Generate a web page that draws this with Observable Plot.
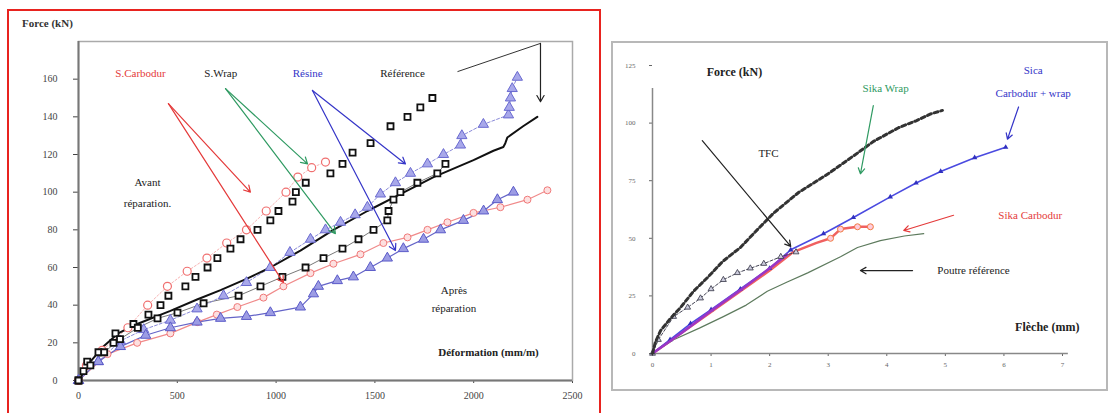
<!DOCTYPE html>
<html>
<head>
<meta charset="utf-8">
<script src="https://cdn.jsdelivr.net/npm/d3@7"></script>
<script src="https://cdn.jsdelivr.net/npm/@observablehq/plot@0.6"></script>
<style>
  body { margin: 0; background: #fff; }
  #root { position: relative; width: 1110px; height: 413px; overflow: hidden; background: #fff; font-family: "Liberation Serif", serif; }
  .abs { position: absolute; }
  #root svg, #root svg text { font-family: "Liberation Serif", serif !important; }
</style>
</head>
<body>
<div id="root">
  <div class="abs" style="left:7px;top:9px;width:590px;height:420px;border:2px solid #e8231f;"></div>
  <div class="abs" style="left:611px;top:41px;width:493px;height:346px;border:2px solid #b8b8b8;"></div>
  <div id="left" class="abs" style="left:0;top:0"></div>
  <div id="right" class="abs" style="left:600px;top:0"></div>
  <div class="abs" style="left:22px;top:17px;font:bold 11px 'Liberation Serif';color:#333">Force (kN)</div>
</div>
<script>
// ---------- LEFT CHART DATA : Force (kN) vs Déformation (mm/m) ----------
const leftXTicks = [0, 500, 1000, 1500, 2000, 2500];
const leftYTicks = [0, 20, 40, 60, 80, 100, 120, 140, 160];

const sCarbodurAvant = [[0,0],[40,8],[120,16],[250,28],[350,40],[450,50],[550,58],[650,65],[750,73],[850,80],[950,90],[1050,100],[1110,108],[1180,113],[1250,116]];
const sWrapAvant = [[0,0],[25,5],[44,10],[101,15],[177,20],[187,25],[278,30],[354,35],[415,40],[455,45],[541,50],[592,55],[653,60],[703,65],[769,70],[820,75],[906,80],[971,85],[1012,90],[1083,95],[1100,100],[1150,105],[1275,110],[1336,115],[1387,121],[1478,126],[1579,135],[1665,140],[1730,145],[1791,150]];
const sWrapApres = [[0,0],[60,8],[130,15],[210,22],[300,28],[400,33],[501,36],[633,41],[810,45],[921,50],[1032,55],[1149,60],[1240,65],[1336,70],[1417,75],[1493,80],[1563,85],[1569,90],[1594,96],[1629,100],[1715,105],[1816,110],[1857,115]];
const reference = [[0,0],[60,10],[126,18],[200,25],[297,30],[465,37],[600,43],[719,48],[850,54],[971,60],[1123,69],[1290,80],[1462,90],[1629,99],[1797,108],[1999,117],[2100,122],[2150,124],[2160,126],[2170,129],[2250,135],[2322,140]];
const resineAvant = [[0,0],[100,10],[212,21],[330,27],[465,32],[600,38],[734,45],[850,52],[971,60],[1070,68],[1174,75],[1250,80],[1326,84],[1400,88],[1462,92],[1528,99],[1604,105],[1680,110],[1766,115],[1847,120],[1933,125],[1940,130],[2049,136],[2176,141],[2180,145],[2186,150],[2195,155],[2221,161]];
const sCarbodurApres = [[0,0],[147,14],[297,20],[465,25],[602,31],[700,35],[804,39],[936,44],[1037,50],[1174,57],[1290,62],[1427,67],[1543,73],[1665,76],[1766,80],[1867,84],[1999,89],[2135,92],[2272,96],[2373,101]];
const resineApres = [[0,0],[100,10],[212,18],[340,24],[465,28],[600,31],[719,33],[850,34],[971,36],[1123,39],[1189,46],[1214,50],[1310,53],[1391,55],[1477,60],[1563,65],[1644,70],[1746,75],[1832,80],[1948,85],[2050,90],[2120,96],[2201,100]];

const leftLabels = [
  {x: 314, y: 163, text: "S.Carbodur", group: "red"},
  {x: 720, y: 163, text: "S.Wrap", group: "black"},
  {x: 1160, y: 163, text: "Résine", group: "blue"},
  {x: 1640, y: 163, text: "Référence", group: "black"},
  {x: 349, y: 105, text: "Avant", group: "black"},
  {x: 349, y: 94, text: "réparation.", group: "black"},
  {x: 1900, y: 48, text: "Après", group: "black"},
  {x: 1900, y: 38, text: "réparation", group: "black"}
];
const leftAxisTitle = [{x: 2075, y: 15, text: "Déformation (mm/m)"}];
const leftArrows = [
  {x1: 455, y1: 147, x2: 870, y2: 100, group: "red"},
  {x1: 455, y1: 147, x2: 1037, y2: 52, group: "red"},
  {x1: 744, y1: 155, x2: 1159, y2: 115, group: "green"},
  {x1: 744, y1: 155, x2: 1300, y2: 78, group: "green"},
  {x1: 1184, y1: 154, x2: 1655, y2: 115, group: "blue"},
  {x1: 1184, y1: 154, x2: 1604, y2: 69, group: "blue"},
  {x1: 2338, y1: 179, x2: 2338, y2: 148, group: "black"}
];
const leftLinks = [{x1: 1918, y1: 164, x2: 2338, y2: 179}];

// ---------- RIGHT CHART DATA : Force (kN) vs Flèche (mm) ----------
const rightXTicks = [0, 1, 2, 3, 4, 5, 6, 7];
const rightYTicks = [0, 25, 50, 75, 100, 125];

const tfc = [[0,0],[0.05,5],[0.14,10],[0.3,15],[0.48,20],[0.7,27],[0.94,33],[1.2,40],[1.5,46],[1.8,54],[2.07,61],[2.5,70],[3.0,78],[3.5,87],[3.77,92],[4.2,98],[4.5,101],[4.75,104],[4.95,105.5]];
const sikaWrap = [[0,0],[0.1,6],[0.36,16],[0.6,20],[0.82,24],[1.0,28],[1.21,32],[1.45,35],[1.67,37],[1.9,39],[2.19,42],[2.45,44]];
const carbodurWrap = [[0,0],[0.3,6],[0.65,13],[1.0,19],[1.5,28],[2.0,37],[2.36,45],[2.92,52],[3.43,59],[4.06,68],[4.5,74],[4.92,79],[5.5,85],[6.03,89.5]];
const purpleOverlay = [[0,0],[0.5,9],[1.0,18.5],[1.5,27.5],[2.0,37],[2.3,43]];
const sikaCarbodur = [[0,0],[0.5,9],[1.0,18],[1.5,27],[2.0,36],[2.4,44],[2.8,48],[3.04,50],[3.21,54],[3.5,55],[3.72,55]];
const poutreRef = [[0,0],[0.36,6],[0.8,11],[1.21,16],[1.6,21],[1.96,27],[2.3,31],[2.65,35],[3.21,42],[3.5,46],[3.89,49],[4.3,51],[4.63,52]];

const rightLabels = [
  {x: 1.98, y: 87, text: "TFC", group: "black"},
  {x: 3.98, y: 115, text: "Sika Wrap", group: "green"},
  {x: 6.5, y: 123, text: "Sica", group: "blue"},
  {x: 6.5, y: 113, text: "Carbodur + wrap", group: "blue"},
  {x: 6.45, y: 60, text: "Sika Carbodur", group: "red"},
  {x: 5.48, y: 36, text: "Poutre référence", group: "black"}
];
const rightTitles = [
  {x: 1.4, y: 122, text: "Force (kN)"},
  {x: 6.74, y: 11.3, text: "Flèche (mm)"}
];
const rightArrows = [
  {x1: 0.85, y1: 92.4, x2: 2.36, y2: 46.5, group: "black"},
  {x1: 3.77, y1: 107.6, x2: 3.55, y2: 78, group: "green"},
  {x1: 6.25, y1: 107, x2: 6.06, y2: 93, group: "blue"},
  {x1: 5.14, y1: 60, x2: 4.29, y2: 53.4, group: "red"},
  {x1: 4.44, y1: 36, x2: 3.55, y2: 36, group: "black"}
];

// ---------- helpers ----------
const rows = pts => pts.map(([x, y]) => ({x, y}));
const colorOf = g => ({red: "#e43a3a", green: "#2f9a62", blue: "#3535c8", black: "#222"})[g];
const FONT = "'Liberation Serif', serif";

// ---------- LEFT ----------
const left = Plot.plot({
  width: 600, height: 413,
  marginLeft: 78, marginRight: 28, marginTop: 41, marginBottom: 33,
  style: {fontFamily: FONT, fontSize: "10px", color: "#444", background: "transparent"},
  x: {domain: [0, 2500], ticks: leftXTicks, tickFormat: d => String(d), tickSize: 3, tickPadding: 8, label: null},
  y: {domain: [0, 180], ticks: leftYTicks, tickFormat: d => String(d), tickSize: 5, tickPadding: 16, label: null},
  marks: [
    Plot.frame({stroke: "#aaa", strokeWidth: 1.5}),
    Plot.ruleX([0], {stroke: "#777", strokeWidth: 2}),
    Plot.ruleY([0], {stroke: "#777", strokeWidth: 2}),
    // lines
    Plot.line(rows(sCarbodurApres), {x: "x", y: "y", stroke: "#f08a8a", strokeWidth: 1.2}),
    Plot.line(rows(resineApres), {x: "x", y: "y", stroke: "#6464c8", strokeWidth: 1.2}),
    Plot.line(rows(sWrapApres), {x: "x", y: "y", stroke: "#555", strokeWidth: 0.8}),
    Plot.line(rows(resineAvant), {x: "x", y: "y", stroke: "#8a8ad8", strokeWidth: 1, strokeDasharray: "3,2"}),
    Plot.line(rows(sCarbodurAvant), {x: "x", y: "y", stroke: "#f4a0a0", strokeWidth: 0.8, strokeDasharray: "2,2"}),
    Plot.line(rows(reference), {x: "x", y: "y", stroke: "#111", strokeWidth: 2}),
    // markers
    Plot.dot(rows(sCarbodurAvant), {x: "x", y: "y", r: 4, stroke: "#f07070", strokeWidth: 1.2, fill: "white"}),
    Plot.dot(rows(sCarbodurApres), {x: "x", y: "y", r: 3.5, stroke: "#f07a7a", strokeWidth: 1, fill: "#fde0e0"}),
    Plot.dot(rows(resineAvant), {x: "x", y: "y", symbol: "triangle", r: 3.8, stroke: "#6a6ad0", strokeWidth: 1, fill: "#a8a8ea"}),
    Plot.dot(rows(resineApres), {x: "x", y: "y", symbol: "triangle", r: 3.8, stroke: "#5a5ac8", strokeWidth: 1, fill: "#9c9ce4"}),
    Plot.dot(rows(sWrapAvant), {x: "x", y: "y", symbol: "square", r: 3.4, stroke: "#111", strokeWidth: 1.8, fill: "white"}),
    Plot.dot(rows(sWrapApres), {x: "x", y: "y", symbol: "square", r: 3.4, stroke: "#111", strokeWidth: 1.8, fill: "white"}),
    // annotations
    Plot.link(leftLinks, {x1: "x1", y1: "y1", x2: "x2", y2: "y2", stroke: "#333", strokeWidth: 1}),
    Plot.arrow(leftArrows, {x1: "x1", y1: "y1", x2: "x2", y2: "y2", stroke: d => colorOf(d.group), strokeWidth: 1.2, headLength: 9, bend: 0}),
    Plot.text(leftLabels, {x: "x", y: "y", text: "text", fill: d => colorOf(d.group), fontSize: 11, fontFamily: FONT}),
    Plot.text(leftAxisTitle, {x: "x", y: "y", text: "text", fill: "#222", fontSize: 11, fontWeight: "bold", fontFamily: FONT})
  ]
});
document.getElementById("left").appendChild(left);

// ---------- RIGHT ----------
const right = Plot.plot({
  width: 510, height: 413,
  marginLeft: 52, marginRight: 48, marginTop: 65, marginBottom: 60,
  style: {fontFamily: FONT, fontSize: "7px", color: "#666", background: "transparent"},
  x: {domain: [0, 7], ticks: rightXTicks, tickFormat: d => String(d), tickSize: 3, tickPadding: 6, label: null},
  y: {domain: [0, 125], ticks: rightYTicks, tickFormat: d => String(d), tickSize: 3, tickPadding: 14, label: null},
  marks: [
    Plot.ruleX([0], {y1: 0, y2: 115, stroke: "#888", strokeWidth: 1.5}),
    Plot.ruleY([0], {x1: 0, x2: 7.1, stroke: "#888", strokeWidth: 1.5}),
    Plot.line(rows(poutreRef), {x: "x", y: "y", stroke: "#5d7a5d", strokeWidth: 1.2}),
    Plot.line(rows(sikaCarbodur), {x: "x", y: "y", stroke: "#f06060", strokeWidth: 2.5}),
    Plot.dot(rows(sikaCarbodur).slice(-4), {x: "x", y: "y", r: 3, stroke: "#f07a40", fill: "#fcd", strokeWidth: 1}),
    Plot.line(rows(carbodurWrap), {x: "x", y: "y", stroke: "#4a4ae0", strokeWidth: 1.6}),
    Plot.dot(rows(carbodurWrap), {x: "x", y: "y", symbol: "triangle", r: 2, fill: "#3030c0"}),
    Plot.line(rows(purpleOverlay), {x: "x", y: "y", stroke: "#9a36c6", strokeWidth: 2.5}),
    Plot.line(rows(sikaWrap), {x: "x", y: "y", stroke: "#445", strokeWidth: 1, strokeDasharray: "3,2"}),
    Plot.dot(rows(sikaWrap), {x: "x", y: "y", symbol: "triangle", r: 2.2, stroke: "#334", fill: "#ccd", strokeWidth: 0.8}),
    Plot.line(rows(tfc), {x: "x", y: "y", stroke: "#333", strokeWidth: 3, strokeDasharray: "4,3"}),
    Plot.arrow(rightArrows, {x1: "x1", y1: "y1", x2: "x2", y2: "y2", stroke: d => colorOf(d.group), strokeWidth: 1.2, headLength: 8, bend: 0}),
    Plot.text(rightLabels, {x: "x", y: "y", text: "text", fill: d => colorOf(d.group), fontSize: 11, fontFamily: FONT}),
    Plot.text(rightTitles, {x: "x", y: "y", text: "text", fill: "#222", fontSize: 12, fontWeight: "bold", fontFamily: FONT})
  ]
});
document.getElementById("right").appendChild(right);
</script>
</body>
</html>
